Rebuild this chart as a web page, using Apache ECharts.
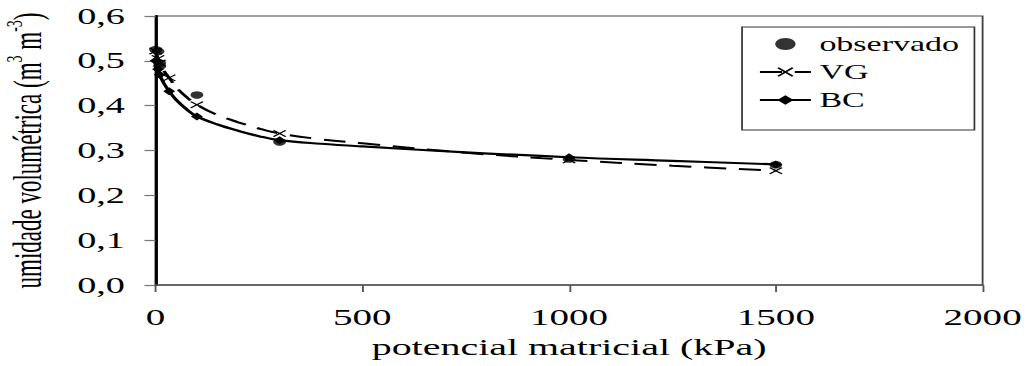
<!DOCTYPE html>
<html>
<head>
<meta charset="utf-8">
<script src="https://cdn.jsdelivr.net/npm/echarts@6/dist/echarts.min.js"></script>
<style>
  html, body { margin: 0; padding: 0; background: #fff; overflow: hidden; }
  /* the figure is drawn narrow and widened, like a spreadsheet chart pasted with a stretched aspect */
  #chart { width: 604px; height: 366px; transform: scaleX(1.7); transform-origin: 0 0; }
</style>
</head>
<body>
<div id="chart"></div>
<script>
// Matric potential (kPa) at which water content was measured
const measuredPotentials = [0, 6, 10, 33, 100, 300, 1000, 1500];

// Observed volumetric water content (m3 m-3)
const observado = [[0, 0.525], [6, 0.521], [10, 0.495], [10, 0.488], [100, 0.424], [300, 0.319], [1000, 0.281], [1500, 0.268]];

// Fitted van Genuchten curve (kPa, m3 m-3)
const vgCurve = [[0, 0.522], [6, 0.505], [10, 0.495], [20, 0.478], [33, 0.462], [50, 0.441], [75, 0.419], [100, 0.402],
                 [150, 0.379], [200, 0.363], [250, 0.349], [300, 0.338], [400, 0.325], [500, 0.316], [750, 0.295],
                 [1000, 0.279], [1250, 0.266], [1500, 0.255]];

// Fitted Brooks & Corey curve (kPa, m3 m-3)
const bcCurve = [[0, 0.500], [6, 0.481], [10, 0.469], [20, 0.450], [33, 0.432], [50, 0.413], [75, 0.392], [100, 0.376],
                 [150, 0.358], [200, 0.344], [250, 0.332], [300, 0.323], [400, 0.315], [500, 0.309], [750, 0.296],
                 [1000, 0.285], [1250, 0.277], [1500, 0.269]];

const xTicks = { min: 0, max: 2000, interval: 500 };
const yTicks = { min: 0, max: 0.6, interval: 0.1 };

const serif = '"Liberation Serif", "Times New Roman", serif';
const crossPath = 'path://M0,1L1,0L5,4L9,0L10,1L6,5L10,9L9,10L5,6L1,10L0,9L4,5Z';

// markers only at the measured potentials; the rest of each curve is plain line
const withMarkers = curve => curve.map(([x, y]) =>
  measuredPotentials.includes(x) ? { value: [x, y] } : { value: [x, y], symbol: 'none' });

const chart = echarts.init(document.getElementById('chart'), null, { renderer: 'svg' });
chart.setOption({
  animation: false,
  backgroundColor: '#fff',
  textStyle: { fontFamily: serif, color: '#000' },
  grid: {
    left: 91.5, right: 26, top: 16, bottom: 81,
    show: true, borderColor: '#444', borderWidth: 1.1,
    containLabel: false, outerBoundsMode: 'none'
  },
  legend: {
    orient: 'vertical',
    left: 436.5, top: 27,
    padding: [7, 9, 20, 9.5],
    itemWidth: 30, itemHeight: 12, itemGap: 8,
    borderColor: '#333', borderWidth: 1,
    textStyle: { fontFamily: serif, fontSize: 20, color: '#000' },
    data: ['observado', 'VG', 'BC']
  },
  xAxis: {
    type: 'value',
    min: xTicks.min, max: xTicks.max, interval: xTicks.interval,
    name: 'potencial matricial (kPa)',
    nameLocation: 'middle', nameGap: 50,
    nameTextStyle: { fontFamily: serif, fontSize: 23.5, color: '#000' },
    axisLine: { show: true, onZero: false, lineStyle: { color: '#555', width: 1.5 } },
    axisTick: { show: true, length: 7, lineStyle: { color: '#555', width: 1.1 } },
    axisLabel: { fontFamily: serif, fontSize: 23, color: '#000', margin: 21, formatter: v => String(v) },
    splitLine: { show: false }
  },
  yAxis: {
    type: 'value',
    min: yTicks.min, max: yTicks.max, interval: yTicks.interval,
    name: 'umidade volumétrica (m{sup|3} m{sup|-3})',
    nameLocation: 'middle', nameGap: 60,
    nameTextStyle: {
      fontFamily: serif, fontSize: 23, color: '#000',
      rich: { sup: { fontFamily: serif, fontSize: 14, verticalAlign: 'top', padding: [0, 0, 16, 0] } }
    },
    axisLine: { show: true, onZero: false, lineStyle: { color: '#000', width: 1.8 } },
    axisTick: { show: true, length: 6.5, lineStyle: { color: '#777', width: 1.2 } },
    axisLabel: {
      fontFamily: serif, fontSize: 22.5, color: '#000', margin: 18,
      formatter: v => v.toFixed(1).replace('.', ',')
    },
    splitLine: { show: false }
  },
  series: [
    {
      name: 'VG', type: 'line', data: withMarkers(vgCurve),
      smooth: 0.4,
      symbol: crossPath, symbolSize: [8, 7], showAllSymbol: true,
      itemStyle: { color: '#000' },
      lineStyle: { color: '#000', width: 2, type: [13, 7.5] },
      z: 3
    },
    {
      name: 'BC', type: 'line', data: withMarkers(bcCurve),
      smooth: 0.4,
      symbol: 'diamond', symbolSize: [7, 8], showAllSymbol: true,
      itemStyle: { color: '#000' },
      lineStyle: { color: '#000', width: 2.2 },
      z: 4
    },
    {
      name: 'observado', type: 'scatter', data: observado,
      symbol: 'circle', symbolSize: 7.5,
      itemStyle: { color: '#000' },
      z: 5
    }
  ]
});
</script>
</body>
</html>
